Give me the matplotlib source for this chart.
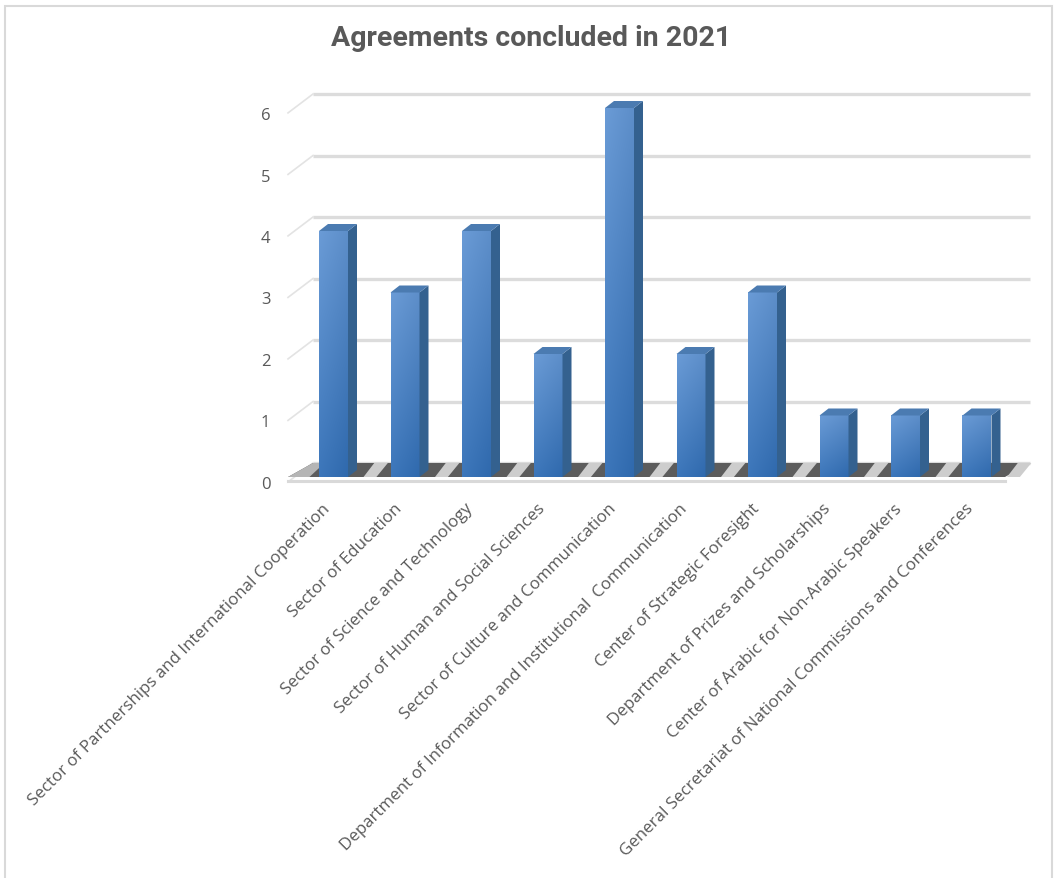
import numpy as np
import matplotlib.pyplot as plt
import matplotlib.transforms as mtransforms
from matplotlib.patches import Polygon, Rectangle

categories = [
    "Sector of Partnerships and International Cooperation",
    "Sector of Education",
    "Sector of Science and Technology",
    "Sector of Human and Social Sciences",
    "Sector of Culture and Communication",
    "Department of Information and Institutional  Communication",
    "Center of Strategic Foresight",
    "Department of Prizes and Scholarships",
    "Center of Arabic for Non-Arabic Speakers",
    "General Secretariat of National Commissions and Conferences",
]
values = [4, 3, 4, 2, 6, 2, 3, 1, 1, 1]
yticks = [0, 1, 2, 3, 4, 5, 6]
title = "Agreements concluded in 2021"

plt.rcParams['font.family'] = ['Open Sans', 'DejaVu Sans']

W, H = 1058, 879
fig = plt.figure(figsize=(W / 100, H / 100), dpi=100)

# pixel layout of the pseudo 3d plot area
X0, XS = 333.5, 71.5   # pixel of first category, pixels per category
Y0, YS = 478.0, 61.5   # pixel of value 0, pixels per unit
ax = fig.add_axes([280 / W, 1 - 490 / H, 760 / W, 400 / H])

bw = 29 / XS               # bar front width
bdx, bdy = 9 / XS, 7 / YS  # bar depth
wdx, wdy = 25 / XS, 14 / YS  # back wall offset
fl, fr = (288 - X0) / XS, (1005 - X0) / XS  # floor front ends

# back wall gridlines
for v in yticks:
    ax.plot([fl + wdx, fr + wdx], [v + wdy, v + wdy], color='#dcdcdc',
            lw=2.4, zorder=1, solid_capstyle='butt')
    ax.plot([fl, fl + wdx], [v - 0.08, v + wdy], color='#e3e3e3', lw=1.2, zorder=1)

# floor
ax.add_patch(Polygon([(fl, 0), (fr, 0), (fr + wdx, wdy), (fl + wdx, wdy)],
                     closed=True, fc='#5c5c5c', ec='none', zorder=2))
for i in range(len(values)):
    ax.add_patch(Polygon([(i + 0.42, 0), (i + 0.60, 0), (i + 0.76, wdy), (i + 0.57, wdy)],
                         closed=True, fc='#cdcdcd', ec='none', zorder=2))
ax.add_patch(Polygon([(fl, 0), (fl + 0.3, 0), (fl + 0.3 + wdx * 0.6, wdy), (fl + wdx, wdy)],
                     closed=True, fc='#b5b5b5', ec='none', zorder=2))
ax.plot([fl, fr], [-0.06, -0.06], color='#d9d9d9', lw=2.2, zorder=2)

# bars
top_c = np.array([106, 155, 214]) / 255
bot_c = np.array([60, 118, 186]) / 255
t = np.linspace(0, 1, 120)[:, None, None]
s = np.linspace(0, 1, 20)[None, :, None]
grad = bot_c * (1 - t) + top_c * t - 0.05 * s
grad = np.clip(grad, 0, 1)

for i, v in enumerate(values):
    x0, x1 = i - bw / 2, i + bw / 2
    ax.imshow(grad, extent=[x0, x1, 0, v], origin='lower', aspect='auto',
              zorder=3, interpolation='bilinear')
    ax.add_patch(Polygon([(x1, 0), (x1 + bdx, bdy), (x1 + bdx, v + bdy), (x1, v)],
                         closed=True, fc='#34618f', ec='none', zorder=3))
    ax.add_patch(Polygon([(x0, v), (x1, v), (x1 + bdx, v + bdy), (x0 + bdx, v + bdy)],
                         closed=True, fc='#4b7bb1', ec='none', zorder=3))

ax.set_xlim((280 - X0) / XS, (1040 - X0) / XS)
ax.set_ylim((Y0 - 490) / YS, (Y0 - 90) / YS)

ax.set_yticks(yticks)
ax.set_yticklabels([str(v) for v in yticks])
ax.set_xticks(np.arange(len(categories)) - 0.16)
ax.set_xticklabels(categories, rotation=45, ha='right', va='top',
                   rotation_mode='anchor')
ax.tick_params(length=0, labelcolor='#595959')
ax.tick_params(axis='y', pad=7, labelsize=12)
ax.tick_params(axis='x', pad=8, labelsize=12.2)
# y labels sit a little below the front levels, as in the original
shift = mtransforms.ScaledTranslation(0, -5 / 100, fig.dpi_scale_trans)
for lab in ax.get_yticklabels():
    lab.set_transform(lab.get_transform() + shift)
for sp in ax.spines.values():
    sp.set_visible(False)

fig.text(531 / W, 1 - 38 / H, title, ha='center', va='center', fontsize=20.5,
         fontweight='bold', color='#595959', family=['Roboto', 'DejaVu Sans'])

fig.add_artist(Rectangle((5 / W, -0.01), 1047 / W, 1.01 - 7 / H,
                         transform=fig.transFigure, fill=False,
                         ec='#d9d9d9', lw=1.5))

fig.savefig("out.png", dpi=100)
